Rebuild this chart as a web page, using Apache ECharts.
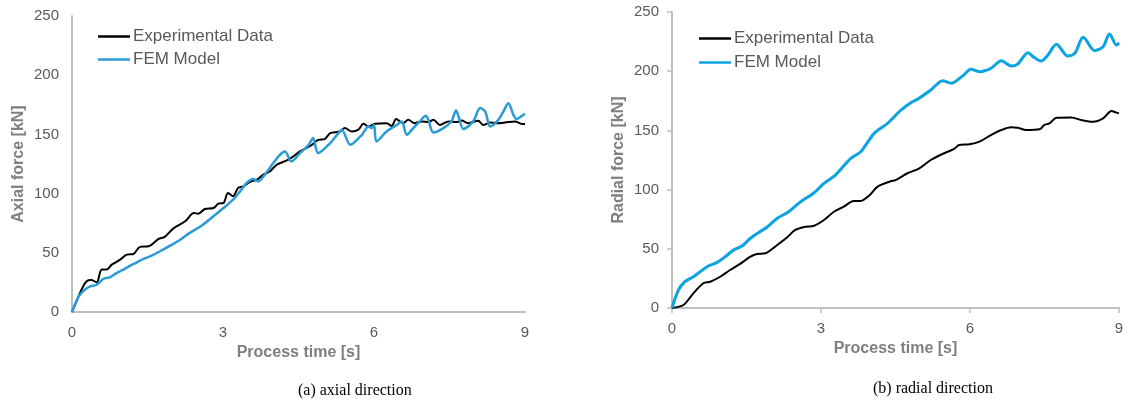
<!DOCTYPE html>
<html>
<head>
<meta charset="utf-8">
<script src="https://cdn.jsdelivr.net/npm/echarts@6/dist/echarts.min.js"></script>
<style>
  html, body { margin: 0; padding: 0; background: #fff; }
  #chart { width: 1129px; height: 401px; }
</style>
</head>
<body>
<div id="chart"></div>
<script>
// axis ticks
const timeTicks = [0, 3, 6, 9];
const forceTicks = [0, 50, 100, 150, 200, 250];

// (a) axial direction
const axialExpTime = [0, 0.09, 0.19, 0.29, 0.39, 0.49, 0.59, 0.69, 0.79, 0.95, 1.09, 1.22, 1.35, 1.52, 1.72, 1.84, 2.01, 2.25, 2.42, 2.51, 2.64, 2.81, 2.91, 3.01, 3.1, 3.2, 3.3, 3.4, 3.54, 3.67, 3.8, 3.93, 4.07, 4.3, 4.53, 4.76, 4.89, 5.02, 5.13, 5.32, 5.42, 5.56, 5.69, 5.79, 5.89, 6.02, 6.25, 6.35, 6.44, 6.58, 6.68, 6.81, 6.95, 7.08, 7.18, 7.31, 7.48, 7.64, 7.74, 7.87, 8.07, 8.17, 8.31, 8.44, 8.6, 8.8, 8.94, 9];
const axialExp = [0, 9, 19, 26, 27, 25, 36, 36, 40, 44, 48.5, 49, 55, 55.5, 61.7, 63.4, 70.4, 76.6, 83.6, 83, 87, 87.8, 91.5, 92, 100.5, 97.7, 104.7, 106, 110, 111.7, 116, 118.7, 124.4, 128.6, 135.6, 141, 145.4, 146, 151, 152.4, 155.3, 152.4, 154, 159, 156.7, 159, 159.5, 157, 163, 159.5, 162.3, 159.5, 161, 160.4, 162.3, 158, 161, 160.4, 161.7, 159.5, 161.5, 158, 160, 159.5, 160, 161, 158.7, 158.7];
const axialFemTime = [0, 0.13, 0.26, 0.36, 0.49, 0.62, 0.75, 0.89, 1.02, 1.16, 1.29, 1.42, 1.58, 1.75, 1.95, 2.15, 2.34, 2.58, 2.81, 3.01, 3.2, 3.34, 3.47, 3.6, 3.7, 3.83, 4.0, 4.13, 4.23, 4.36, 4.53, 4.7, 4.79, 4.89, 5.13, 5.32, 5.36, 5.53, 5.76, 5.89, 5.95, 6.0, 6.05, 6.25, 6.45, 6.55, 6.65, 6.78, 6.91, 7.03, 7.08, 7.18, 7.38, 7.54, 7.63, 7.67, 7.78, 7.97, 8.11, 8.21, 8.31, 8.47, 8.57, 8.67, 8.77, 8.83, 8.94, 9];
const axialFem = [0, 13, 19, 21.7, 23, 28, 29.3, 33, 35.8, 39.2, 42, 44.8, 47.6, 51.3, 56, 61, 66.8, 73, 80.8, 87.8, 94.9, 101.9, 109, 112.3, 110.3, 116, 125.8, 132.8, 135.6, 127.2, 134.2, 141.2, 146.9, 134.2, 142.7, 152.4, 153.9, 141.2, 149.7, 156.7, 155.3, 158, 144, 152.4, 158, 161, 149.7, 155.3, 161, 165.7, 162.3, 151.6, 155.3, 161, 170.2, 166.5, 154.5, 161, 172.2, 169.3, 156.7, 162.3, 169.3, 176.4, 166.5, 163, 165.7, 167.4];

// (b) radial direction
const radialExpTime = [0, 0.23, 0.43, 0.63, 0.77, 0.97, 1.17, 1.37, 1.58, 1.71, 1.88, 2.12, 2.32, 2.48, 2.69, 2.85, 3.06, 3.26, 3.46, 3.66, 3.8, 3.97, 4.14, 4.4, 4.5, 4.74, 4.98, 5.21, 5.48, 5.68, 5.78, 5.99, 6.19, 6.42, 6.63, 6.83, 6.96, 7.13, 7.4, 7.5, 7.6, 7.74, 8.04, 8.24, 8.48, 8.68, 8.85, 8.95, 9];
const radialExp = [0, 2.5, 12.4, 20.9, 22.2, 26.4, 32.1, 37.2, 43.3, 45.6, 46.2, 53.2, 59.7, 65.9, 68.7, 69.3, 74.3, 81.3, 85.6, 90.4, 90.4, 95, 102.5, 107, 108, 113.8, 118, 125, 130.7, 134.3, 137.7, 138.3, 140.5, 146, 150.3, 152.6, 152.3, 150.3, 150.9, 154.6, 156, 160.7, 161, 158.8, 157.3, 160.2, 166.4, 165, 164.4];
const radialFemTime = [0, 0.13, 0.26, 0.43, 0.57, 0.73, 0.9, 1.07, 1.24, 1.41, 1.58, 1.74, 1.91, 2.12, 2.35, 2.59, 2.85, 3.06, 3.29, 3.6, 3.8, 4.07, 4.34, 4.61, 4.84, 4.94, 5.21, 5.45, 5.62, 5.85, 6.02, 6.19, 6.42, 6.63, 6.83, 6.96, 7.17, 7.27, 7.43, 7.57, 7.74, 7.97, 8.11, 8.28, 8.51, 8.68, 8.81, 8.95, 9];
const radialFem = [0, 15.2, 22.2, 26.4, 30.7, 35.5, 38.3, 43.3, 49, 52.4, 58.9, 63.6, 68.2, 75.8, 81.3, 89.8, 96.9, 105.3, 112.3, 126.4, 132, 147.5, 156, 167.2, 174.2, 176.2, 184.1, 192, 189.8, 196, 201.6, 199.6, 202.4, 208.9, 204.4, 206, 215.6, 212.3, 208.6, 213.7, 222.7, 212.8, 215.1, 228.6, 217.3, 220.7, 231.4, 222, 224];

const pairs = (xs, ys) => xs.map((x, i) => [x, ys[i]]);

const axisGrey = "#bfbfbf";
const labelGrey = "#595959";
const nameGrey = "#7f7f7f";
const blueA = "#2a9bd5";
const blueB = "#0ba3e0";

function xAxisFor(gridIndex, ticks) {
  return {
    type: "value",
    gridIndex,
    min: timeTicks[0],
    max: timeTicks[timeTicks.length - 1],
    interval: 3,
    name: "Process time [s]",
    nameLocation: "middle",
    nameGap: 31,
    nameTextStyle: { color: nameGrey, fontSize: 16, fontWeight: "bold", fontFamily: "Liberation Sans" },
    axisLine: { lineStyle: { color: axisGrey, width: 2 } },
    axisTick: { show: ticks, length: 5, lineStyle: { color: axisGrey, width: 1.5 } },
    splitLine: { show: false },
    axisLabel: { color: labelGrey, fontSize: 15, margin: 13, fontFamily: "Liberation Sans" },
  };
}

function yAxisFor(gridIndex, name, ticks) {
  return {
    type: "value",
    gridIndex,
    min: forceTicks[0],
    max: forceTicks[forceTicks.length - 1],
    interval: 50,
    name,
    nameLocation: "middle",
    nameGap: 45,
    nameTextStyle: { color: nameGrey, fontSize: 16, fontWeight: "bold", fontFamily: "Liberation Sans" },
    axisLine: { show: true, lineStyle: { color: axisGrey, width: 2 } },
    axisTick: { show: ticks, length: 5, lineStyle: { color: axisGrey, width: 1.5 } },
    splitLine: { show: false },
    axisLabel: { color: labelGrey, fontSize: 15, margin: 13, fontFamily: "Liberation Sans" },
  };
}

function lineSeries(name, idx, data, color, width) {
  return {
    name,
    type: "line",
    xAxisIndex: idx,
    yAxisIndex: idx,
    data,
    symbol: "none",
    smooth: 0.3,
    lineStyle: { color, width },
    itemStyle: { color },
  };
}

function legendFor(left, top, gap, blue) {
  return {
    orient: "vertical",
    left,
    top,
    icon: "rect",
    itemWidth: 32,
    itemHeight: 2.5,
    itemGap: gap,
    textStyle: { color: labelGrey, fontSize: 17, fontFamily: "Liberation Sans", padding: [0, 0, 0, -2] },
    data: [
      { name: "Experimental Data", itemStyle: { color: "#000" } },
      { name: "FEM Model", itemStyle: { color: blue } },
    ],
  };
}

const chart = echarts.init(document.getElementById("chart"), null, { renderer: "canvas" });

const option = {
  animation: false,
  backgroundColor: "#fff",
  grid: [
    { left: 72, top: 16, width: 453, height: 296 },
    { left: 672, top: 12, width: 447, height: 296 },
  ],
  xAxis: [xAxisFor(0, false), xAxisFor(1, true)],
  yAxis: [yAxisFor(0, "Axial force [kN]", false), yAxisFor(1, "Radial force [kN]", true)],
  legend: [legendFor(93, 23, 6, blueA), legendFor(694, 25, 7, blueB)],
  series: [
    lineSeries("Experimental Data", 0, pairs(axialExpTime, axialExp), "#000", 2),
    lineSeries("FEM Model", 0, pairs(axialFemTime, axialFem), blueA, 2.5),
    lineSeries("Experimental Data", 1, pairs(radialExpTime, radialExp), "#000", 2),
    lineSeries("FEM Model", 1, pairs(radialFemTime, radialFem), blueB, 3),
  ],
  graphic: [
    {
      type: "text", left: 298, top: 383,
      style: { text: "(a) axial direction", fill: "#000", font: "16px 'Liberation Serif'", textAlign: "center" },
    },
    {
      type: "text", left: 873, top: 381,
      style: { text: "(b) radial direction", fill: "#000", font: "16px 'Liberation Serif'", textAlign: "center" },
    },
  ],
};

chart.setOption(option);
</script>
</body>
</html>
